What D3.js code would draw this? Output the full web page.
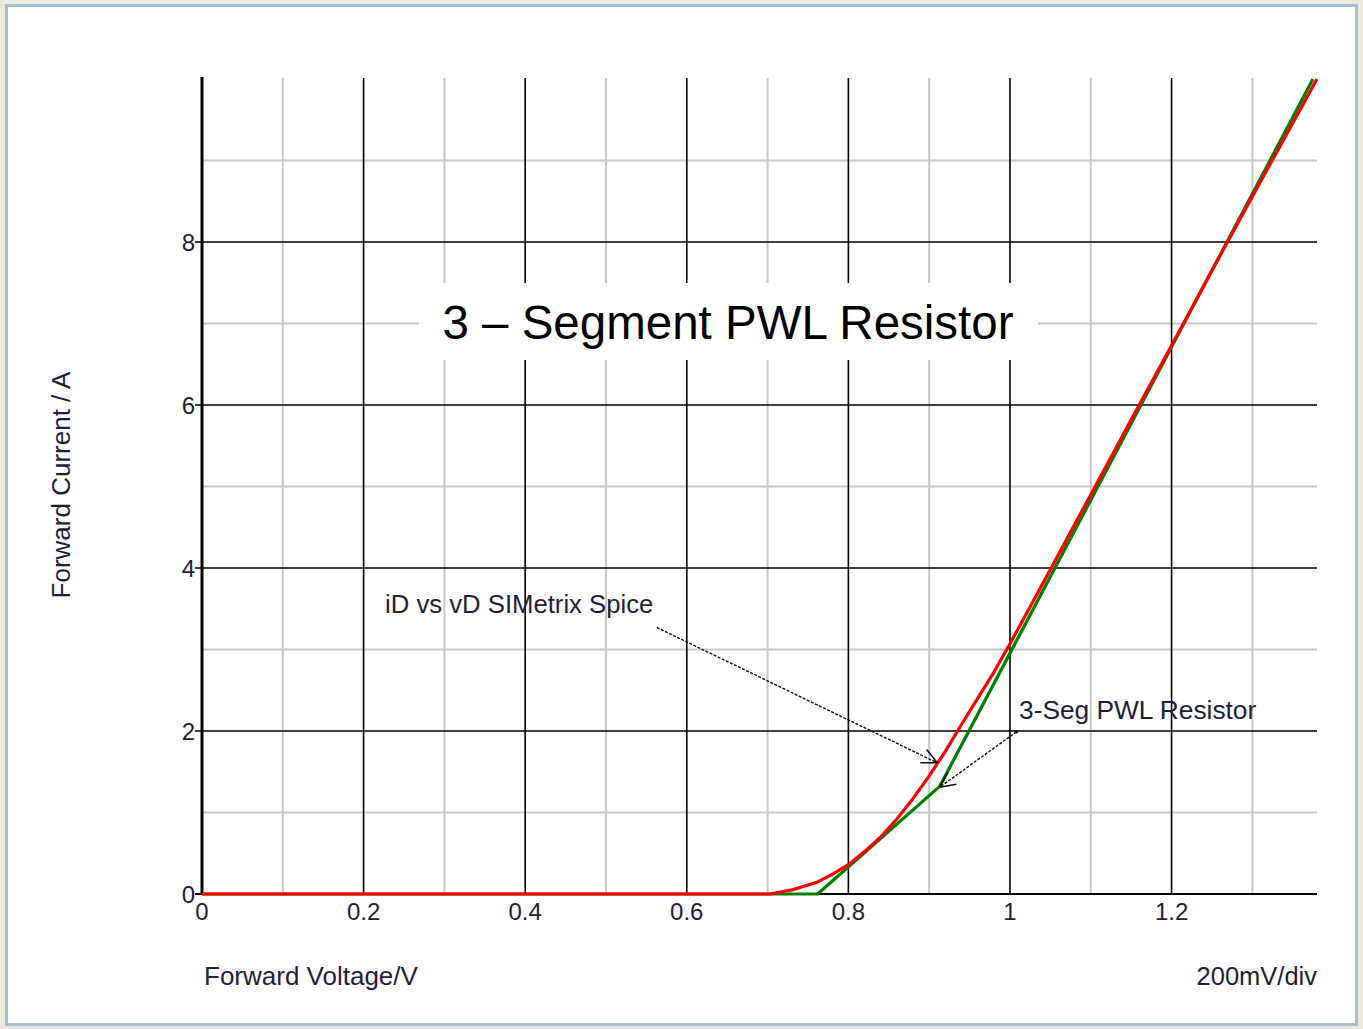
<!DOCTYPE html>
<html><head><meta charset="utf-8">
<script src="https://cdn.jsdelivr.net/npm/d3@7"></script>
<style>
html,body{margin:0;padding:0;background:#ECEADF;}
svg{display:block;}
text{font-family:"Liberation Sans",Arial,sans-serif;}
</style></head>
<body>
<svg id="c" width="1363" height="1029"></svg>
<script>
// ---- data ----
const spiceV = [0, 0.703, 0.73, 0.76, 0.78, 0.80, 0.82, 0.84, 0.86, 0.88, 0.90, 0.92, 0.94, 0.96, 0.98, 1.00, 1.05, 1.10, 1.15, 1.20, 1.25, 1.30, 1.38];
const spiceI = [0, 0, 0.05, 0.14, 0.24, 0.36, 0.52, 0.70, 0.92, 1.17, 1.45, 1.75, 2.08, 2.40, 2.72, 3.07, 3.98, 4.90, 5.82, 6.73, 7.65, 8.56, 10.0];
const pwlV = [0, 0.762, 0.913, 1.375];
const pwlI = [0, 0, 1.32, 10.0];
const xTicks = [0, 0.2, 0.4, 0.6, 0.8, 1, 1.2];
const xTickLabels = ["0", "0.2", "0.4", "0.6", "0.8", "1", "1.2"];
const xMinor = [0.1, 0.3, 0.5, 0.7, 0.9, 1.1, 1.3];
const yTicks = [0, 2, 4, 6, 8];
const yTickLabels = ["0", "2", "4", "6", "8"];
const yMinor = [1, 3, 5, 7, 9];
const titleText = "3 \u2013 Segment PWL Resistor";
const xLabel = "Forward Voltage/V";
const yLabel = "Forward Current / A";
const scaleNote = "200mV/div";
const note1 = "iD vs vD SIMetrix Spice";
const note2 = "3-Seg PWL Resistor";
// arrow endpoints in data units (leader start, arrow tip)
const arrow1 = {from: [0.563, 3.27], to: [0.91, 1.61]};
const arrow2 = {from: [1.008, 1.99], to: [0.913, 1.31]};

// ---- layout ----
const svg = d3.select("#c");
const L = 202, R = 1317, T = 79, B = 894;
const x = d3.scaleLinear().domain([0, 1.38]).range([L, R]);
const y = d3.scaleLinear().domain([0, 10]).range([B, T]);

// frame
svg.append("rect").attr("x", 6.5).attr("y", 5.5).attr("width", 1350).attr("height", 1019)
  .attr("fill", "#fff").attr("stroke", "#A7BBD1").attr("stroke-width", 3);

const g = svg.append("g");
// minor grid
g.selectAll(".vx").data(xMinor).join("line")
  .attr("x1", d => x(d)).attr("x2", d => x(d)).attr("y1", T - 1).attr("y2", B)
  .attr("stroke", "#C8C8C8").attr("stroke-width", 2);
g.selectAll(".hy").data(yMinor).join("line")
  .attr("x1", L).attr("x2", R).attr("y1", d => y(d)).attr("y2", d => y(d))
  .attr("stroke", "#C8C8C8").attr("stroke-width", 2);
// major grid
g.selectAll(".vX").data(xTicks.slice(1)).join("line")
  .attr("x1", d => x(d)).attr("x2", d => x(d)).attr("y1", T - 1).attr("y2", B)
  .attr("stroke", "#000").attr("stroke-width", 1.6);
g.selectAll(".hY").data(yTicks).join("line")
  .attr("x1", L - 7).attr("x2", R).attr("y1", d => y(d)).attr("y2", d => y(d))
  .attr("stroke", "#000").attr("stroke-width", d => d === 0 ? 2 : 1.6);
// y axis line
g.append("line").attr("x1", L).attr("x2", L).attr("y1", T - 2).attr("y2", B + 1)
  .attr("stroke", "#000").attr("stroke-width", 3);

// title box
const tb = svg.append("g");
tb.append("rect").attr("x", 419).attr("y", 283).attr("width", 619).attr("height", 77).attr("fill", "#fff");
tb.append("text").attr("x", 728).attr("y", 339).attr("text-anchor", "middle")
  .attr("font-size", 47.5).attr("fill", "#000").text(titleText);

// tick labels
svg.selectAll(".xl").data(xTicks).join("text")
  .attr("x", d => x(d)).attr("y", 920).attr("text-anchor", "middle")
  .attr("font-size", 24).attr("fill", "#1E1E3C").text((d, i) => xTickLabels[i]);
svg.selectAll(".yl").data(yTicks).join("text")
  .attr("x", 195).attr("y", d => y(d) + 9).attr("text-anchor", "end")
  .attr("font-size", 24).attr("fill", "#1E1E3C").text((d, i) => yTickLabels[i]);

// axis labels
svg.append("text").attr("x", 204).attr("y", 985).attr("font-size", 26).attr("fill", "#1E1E3C").text(xLabel);
svg.append("text").attr("x", 1317).attr("y", 985).attr("text-anchor", "end").attr("font-size", 25.5).attr("fill", "#1E1E3C").text(scaleNote);
svg.append("text").attr("transform", "translate(70,485) rotate(-90)").attr("text-anchor", "middle")
  .attr("font-size", 26).attr("fill", "#1E1E3C").text(yLabel);

// curves
const line = d3.line().x(d => x(d[0])).y(d => y(d[1]));
svg.append("path").datum(d3.zip(pwlV, pwlI)).attr("d", line)
  .attr("fill", "none").attr("stroke", "#008000").attr("stroke-width", 3.2).attr("stroke-linejoin", "round");
svg.append("path").datum(d3.zip(spiceV, spiceI)).attr("d", line)
  .attr("fill", "none").attr("stroke", "#FF0000").attr("stroke-width", 3.2).attr("stroke-linejoin", "round");

// annotations
svg.append("text").attr("x", 385).attr("y", 613).attr("font-size", 25.7).attr("fill", "#1E1E3C").text(note1);
svg.append("text").attr("x", 1019).attr("y", 719).attr("font-size", 26.3).attr("fill", "#1E1E3C").text(note2);

function arrow(a) {
  const x1 = x(a.from[0]), y1 = y(a.from[1]), x2 = x(a.to[0]), y2 = y(a.to[1]);
  svg.append("line").attr("x1", x1).attr("y1", y1).attr("x2", x2).attr("y2", y2)
    .attr("stroke", "#111").attr("stroke-width", 1.4).attr("stroke-dasharray", "3,1.5");
  const ang = Math.atan2(y1 - y2, x1 - x2), len = 17, spread = 0.45;
  [ang - spread, ang + spread].forEach(t => {
    svg.append("line").attr("x1", x2).attr("y1", y2)
      .attr("x2", x2 + len * Math.cos(t)).attr("y2", y2 + len * Math.sin(t))
      .attr("stroke", "#111").attr("stroke-width", 1.6);
  });
}
arrow(arrow1);
arrow(arrow2);
svg.append("circle").attr("cx", x(arrow2.from[0])).attr("cy", y(arrow2.from[1])).attr("r", 1.8).attr("fill", "#000");
</script>
</body></html>
